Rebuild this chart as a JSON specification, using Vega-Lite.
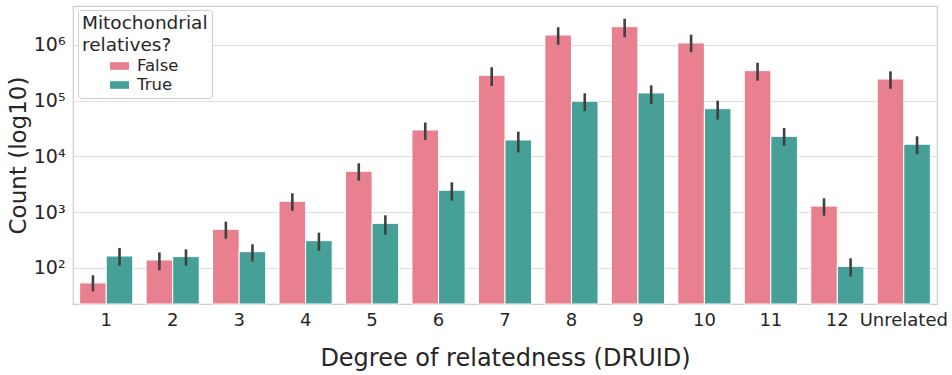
{
  "$schema": "https://vega.github.io/schema/vega-lite/v6.json",
  "width": 864,
  "height": 298,
  "autosize": {"type": "none"},
  "padding": {"left": 73, "top": 6, "right": 15, "bottom": 71},
  "background": "white",
  "config": {
    "font": "DejaVu Sans",
    "view": {"stroke": "#cccccc", "strokeWidth": 1.2},
    "axis": {
      "labelColor": "#262626",
      "titleColor": "#262626",
      "gridColor": "#dddddd",
      "gridWidth": 1.2,
      "domain": false,
      "ticks": false
    }
  },
  "data": {
    "values": [
      {"degree": "1", "mito": "False", "count": 54, "lo": 38, "hi": 74},
      {"degree": "1", "mito": "True", "count": 164, "lo": 110, "hi": 229},
      {"degree": "2", "mito": "False", "count": 139, "lo": 91, "hi": 190},
      {"degree": "2", "mito": "True", "count": 160, "lo": 110, "hi": 216},
      {"degree": "3", "mito": "False", "count": 494, "lo": 335, "hi": 677},
      {"degree": "3", "mito": "True", "count": 196, "lo": 130, "hi": 266},
      {"degree": "4", "mito": "False", "count": 1570, "lo": 1066, "hi": 2190},
      {"degree": "4", "mito": "True", "count": 309, "lo": 204, "hi": 430},
      {"degree": "5", "mito": "False", "count": 5420, "lo": 3680, "hi": 7550},
      {"degree": "5", "mito": "True", "count": 632, "lo": 396, "hi": 881},
      {"degree": "6", "mito": "False", "count": 29900, "lo": 19900, "hi": 40700},
      {"degree": "6", "mito": "True", "count": 2480, "lo": 1610, "hi": 3440},
      {"degree": "7", "mito": "False", "count": 286000, "lo": 184000, "hi": 398000},
      {"degree": "7", "mito": "True", "count": 19800, "lo": 11800, "hi": 27900},
      {"degree": "8", "mito": "False", "count": 1510000, "lo": 1010000, "hi": 2080000},
      {"degree": "8", "mito": "True", "count": 98000, "lo": 65000, "hi": 136000},
      {"degree": "9", "mito": "False", "count": 2130000, "lo": 1380000, "hi": 2950000},
      {"degree": "9", "mito": "True", "count": 138000, "lo": 87000, "hi": 189000},
      {"degree": "10", "mito": "False", "count": 1090000, "lo": 742000, "hi": 1530000},
      {"degree": "10", "mito": "True", "count": 72000, "lo": 46000, "hi": 100000},
      {"degree": "11", "mito": "False", "count": 346000, "lo": 229000, "hi": 479000},
      {"degree": "11", "mito": "True", "count": 23000, "lo": 15500, "hi": 32400},
      {"degree": "12", "mito": "False", "count": 1290, "lo": 870, "hi": 1780},
      {"degree": "12", "mito": "True", "count": 107, "lo": 70, "hi": 149},
      {"degree": "Unrelated", "mito": "False", "count": 245000, "lo": 164000, "hi": 337000},
      {"degree": "Unrelated", "mito": "True", "count": 16600, "lo": 11000, "hi": 23000}
    ]
  },
  "encoding": {
    "x": {
      "field": "degree",
      "type": "nominal",
      "sort": null,
      "scale": {"paddingInner": 0.2, "paddingOuter": 0.1},
      "axis": {
        "title": "Degree of relatedness (DRUID)",
        "labelAngle": 0,
        "labelFontSize": 18,
        "labelPadding": 7,
        "titleFontSize": 24,
        "titleFontWeight": "normal",
        "titlePadding": 17,
        "grid": false
      }
    },
    "xOffset": {"field": "mito", "type": "nominal", "sort": ["False", "True"]}
  },
  "layer": [
    {
      "mark": {"type": "bar", "stroke": "white", "strokeWidth": 1},
      "encoding": {
        "y": {
          "field": "count",
          "type": "quantitative",
          "scale": {"type": "log", "domain": [22.6, 5000000], "nice": false},
          "axis": {
            "title": "Count (log10)",
            "values": [100, 1000, 10000, 100000, 1000000],
            "labelExpr": "'10' + ['⁰','¹','²','³','⁴','⁵','⁶'][round(log(datum.value) / LN10)]",
            "labelFontSize": 19,
            "labelPadding": 8,
            "titleFontSize": 23,
            "titleFontWeight": "normal",
            "titlePadding": 3
          }
        },
        "y2": {"datum": 22.6},
        "color": {
          "field": "mito",
          "type": "nominal",
          "scale": {"domain": ["False", "True"], "range": ["#e8808f", "#46a098"]},
          "legend": {
            "title": ["Mitochondrial", "relatives?"],
            "orient": "none",
            "legendX": 5,
            "legendY": 4,
            "padding": 4,
            "strokeColor": "#cccccc",
            "fillColor": "white",
            "cornerRadius": 3,
            "titleFontSize": 18.5,
            "titleFontWeight": "normal",
            "titleColor": "#262626",
            "titleLineHeight": 22,
            "titlePadding": 2,
            "labelFontSize": 16.5,
            "labelColor": "#262626",
            "symbolType": "M-1,-0.4H1V0.4H-1Z",
            "symbolSize": 360,
            "symbolStrokeWidth": 0,
            "symbolOpacity": 1,
            "symbolOffset": 28,
            "labelOffset": 8,
            "rowPadding": 1
          }
        }
      }
    },
    {
      "mark": {"type": "rule", "color": "#3f3f3f", "strokeWidth": 2.6},
      "encoding": {
        "y": {"field": "lo", "type": "quantitative"},
        "y2": {"field": "hi"}
      }
    }
  ]
}
